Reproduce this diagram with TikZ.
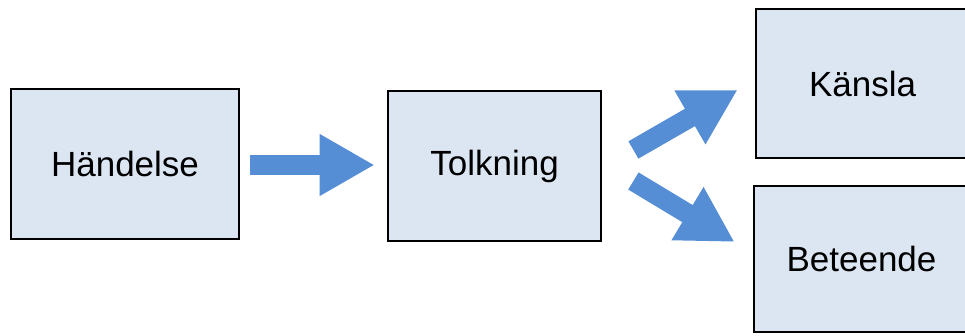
\documentclass[tikz,border=0pt]{standalone}
\usepackage{fontspec}
\setmainfont{Liberation Sans}
\usetikzlibrary{arrows.meta,calc}
\definecolor{boxfill}{RGB}{220,230,242}
\definecolor{arrowblue}{RGB}{85,142,213}

\begin{document}
\begin{tikzpicture}[x=1pt, y=-1pt,
  box/.style={draw=black, line width=2.8pt, fill=boxfill, inner sep=0pt,
    font=\fontsize{35}{42}\selectfont},
  bigarrow/.style={draw=arrowblue, line width=20pt,
    -{Triangle[width=58pt,length=55pt]}}]
 \clip (0,0) rectangle (965,336);
 \fill[white] (0,0) rectangle (965,336);
 % boxes
 \node[box, minimum width=228pt, minimum height=150pt] (hand) at (125,164) {Händelse};
 \node[box, minimum width=213pt, minimum height=150pt] (tolk) at (494.5,166) {Tolkning};
 \node[box, minimum width=213pt, minimum height=149pt] (kansla) at (862.5,83.5) {Känsla};
 \node[box, minimum width=215pt, minimum height=146pt] (bet) at (861.5,259) {Beteende};
 % arrows
 \draw[bigarrow] ($(hand.east)+(10,1)$) -- ($(tolk.west)+(-12,-1)$);
 \draw[bigarrow] ($(tolk.east)+(31,-16)$) -- ($(kansla.west)+(-17,6.5)$);
 \draw[bigarrow] ($(tolk.east)+(31,15)$) -- ($(bet.west)+(-18,-17)$);
\end{tikzpicture}
\end{document}
